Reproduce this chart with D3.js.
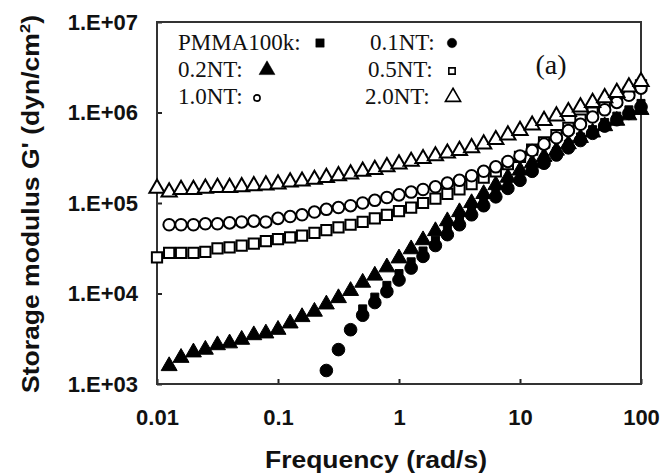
<!DOCTYPE html>
<html>
<head>
<meta charset="utf-8">
<script src="https://cdn.jsdelivr.net/npm/d3@7"></script>
<style>
  html, body { margin: 0; padding: 0; background: #fff; }
  #chart { width: 662px; height: 476px; }
</style>
</head>
<body>
<div id="chart"></div>
<script>
// frequency (rad/s), 10 points per decade
const freq = [0.01, 0.0126, 0.0158, 0.02, 0.0251, 0.0316, 0.0398, 0.0501, 0.0631, 0.0794,
  0.1, 0.126, 0.158, 0.2, 0.251, 0.316, 0.398, 0.501, 0.631, 0.794,
  1, 1.26, 1.58, 2, 2.51, 3.16, 3.98, 5.01, 6.31, 7.94,
  10, 12.6, 15.8, 20, 25.1, 31.6, 39.8, 50.1, 63.1, 79.4, 100];

// storage modulus G' (dyn/cm2), null = no point
const pmma100k = [null, null, null, null, null, null, null, null, null, null,
  null, null, null, null, null, null, null, 6.76e3, 9.12e3, 1.23e4,
  1.66e4, 2.24e4, 2.95e4, 3.89e4, 5.13e4, 6.61e4, 8.32e4, 1.05e5, 1.32e5, 1.62e5,
  2.00e5, 2.51e5, 3.09e5, 3.72e5, 4.47e5, 5.37e5, 6.46e5, 7.76e5, 9.12e5, 1.07e6, 1.26e6];
const nt01 = [null, null, null, null, null, null, null, null, null, null,
  null, null, null, null, 1.41e3, 2.40e3, 3.98e3, 5.75e3, 7.94e3, 1.05e4,
  1.41e4, 1.91e4, 2.57e4, 3.39e4, 4.47e4, 5.75e4, 7.41e4, 9.33e4, 1.17e5, 1.45e5,
  1.78e5, 2.24e5, 2.75e5, 3.39e5, 4.07e5, 4.90e5, 5.89e5, 7.08e5, 8.32e5, 9.77e5, 1.15e6];
const nt02 = [null, 1.58e3, 1.95e3, 2.24e3, 2.40e3, 2.69e3, 2.82e3, 3.09e3, 3.47e3, 3.63e3,
  3.98e3, 4.68e3, 5.50e3, 6.31e3, 7.59e3, 8.91e3, 1.07e4, 1.32e4, 1.58e4, 1.95e4,
  2.45e4, 3.09e4, 3.89e4, 4.90e4, 6.31e4, 7.94e4, 1.00e5, 1.26e5, 1.58e5, 1.91e5,
  2.29e5, 2.75e5, 3.24e5, 3.80e5, 4.47e5, 5.25e5, 6.03e5, 7.08e5, 8.13e5, 9.33e5, 1.07e6];
const nt05 = [2.51e4, 2.82e4, 2.82e4, 2.82e4, 2.88e4, 3.16e4, 3.24e4, 3.39e4, 3.55e4, 3.80e4,
  3.98e4, 4.17e4, 4.37e4, 4.68e4, 5.01e4, 5.37e4, 5.75e4, 6.17e4, 6.76e4, 7.41e4,
  8.13e4, 8.91e4, 1.00e5, 1.12e5, 1.26e5, 1.41e5, 1.62e5, 1.91e5, 2.24e5, 2.69e5,
  3.24e5, 3.89e5, 4.68e5, 5.62e5, 6.76e5, 8.32e5, 1.00e6, 1.17e6, 1.38e6, 1.66e6, 2.00e6];
const nt10 = [null, 5.75e4, 5.75e4, 5.75e4, 5.89e4, 5.89e4, 6.03e4, 6.17e4, 6.31e4, 6.17e4,
  6.76e4, 7.08e4, 7.41e4, 7.94e4, 8.51e4, 8.91e4, 9.33e4, 1.00e5, 1.07e5, 1.15e5,
  1.23e5, 1.32e5, 1.41e5, 1.51e5, 1.66e5, 1.78e5, 2.00e5, 2.24e5, 2.51e5, 2.88e5,
  3.31e5, 3.80e5, 4.47e5, 5.25e5, 6.31e5, 7.41e5, 8.91e5, 1.07e6, 1.29e6, 1.55e6, 1.86e6];
const nt20 = [1.45e5, 1.32e5, 1.41e5, 1.41e5, 1.45e5, 1.48e5, 1.48e5, 1.51e5, 1.55e5, 1.58e5,
  1.62e5, 1.70e5, 1.74e5, 1.82e5, 1.91e5, 2.00e5, 2.09e5, 2.24e5, 2.34e5, 2.51e5,
  2.69e5, 2.88e5, 3.09e5, 3.31e5, 3.55e5, 3.80e5, 4.07e5, 4.47e5, 5.01e5, 5.62e5,
  6.31e5, 7.24e5, 8.13e5, 9.12e5, 1.02e6, 1.15e6, 1.29e6, 1.45e6, 1.66e6, 1.91e6, 2.19e6];

const xTicks = [0.01, 0.1, 1, 10, 100];
const yTicks = [1e3, 1e4, 1e5, 1e6, 1e7];

const series = [
  { name: 'PMMA100k', values: pmma100k, shape: d3.symbolSquare, size: 64, open: false },
  { name: '0.1NT', values: nt01, shape: d3.symbolCircle, size: 125, open: false },
  { name: '0.2NT', values: nt02, shape: d3.symbolTriangle, size: 110, open: false },
  { name: '0.5NT', values: nt05, shape: d3.symbolSquare, size: 105, open: true },
  { name: '1.0NT', values: nt10, shape: d3.symbolCircle, size: 105, open: true },
  { name: '2.0NT', values: nt20, shape: d3.symbolTriangle, size: 100, open: true }
];

const width = 662, height = 476;
const margin = { top: 22, right: 21, bottom: 92, left: 157 };
const w = width - margin.left - margin.right;
const h = height - margin.top - margin.bottom;

const svg = d3.select('#chart').append('svg').attr('width', width).attr('height', height);
const g = svg.append('g').attr('transform', `translate(${margin.left},${margin.top})`);

const x = d3.scaleLog().domain([0.01, 100]).range([0, w]);
const y = d3.scaleLog().domain([1e3, 1e7]).range([h, 0]);

const sans = '"Liberation Sans", Arial, Helvetica, sans-serif';
const serif = '"Liberation Serif", "Times New Roman", Times, serif';

// axes, ticks pointing inward
const xAxis = g.append('g').attr('transform', `translate(0,${h})`)
  .call(d3.axisBottom(x).tickValues(xTicks).tickSize(-5).tickPadding(25)
    .tickFormat(d => d >= 1 ? String(d) : String(+d.toFixed(2))));
const yAxis = g.append('g')
  .call(d3.axisLeft(y).tickValues(yTicks).tickSize(-5).tickPadding(19)
    .tickFormat(d => '1.E+0' + Math.round(Math.log10(d))));
[xAxis, yAxis].forEach(a => {
  a.select('.domain').remove();
  a.selectAll('.tick line').attr('stroke', '#222').attr('stroke-width', 2);
  a.selectAll('.tick text').attr('font-family', sans).attr('font-weight', 'bold')
    .attr('font-size', 22).attr('fill', '#111');
});

g.append('rect').attr('x', 0).attr('y', 0).attr('width', w).attr('height', h)
  .attr('fill', 'none').attr('stroke', '#333').attr('stroke-width', 2);

// data points
series.forEach(s => {
  const pts = freq.map((f, i) => ({ f, v: s.values[i] })).filter(d => d.v != null);
  g.append('g').selectAll('path').data(pts).enter().append('path')
    .attr('transform', d => `translate(${x(d.f)},${y(d.v)})`)
    .attr('d', d3.symbol().type(s.shape).size(s.size))
    .attr('fill', s.open ? '#fff' : '#000')
    .attr('stroke', '#000')
    .attr('stroke-width', s.open ? 2 : 1);
});

// legend
const legend = [
  { s: series[0], tx: 178, ty: 50, mx: 320, my: 43, size: 70 },
  { s: series[1], tx: 370, ty: 50, mx: 452, my: 43, size: 70 },
  { s: series[2], tx: 178, ty: 77, mx: 267, my: 70, size: 110 },
  { s: series[3], tx: 368, ty: 77, mx: 452, my: 71, size: 40 },
  { s: series[4], tx: 178, ty: 104, mx: 257, my: 98, size: 30 },
  { s: series[5], tx: 365, ty: 104, mx: 453, my: 97, size: 100 }
];
legend.forEach(l => {
  svg.append('text').attr('x', l.tx).attr('y', l.ty)
    .attr('font-family', serif).attr('font-size', 23).attr('fill', '#111')
    .text(l.s.name + ':');
  svg.append('path').attr('transform', `translate(${l.mx},${l.my})`)
    .attr('d', d3.symbol().type(l.s.shape).size(l.size))
    .attr('fill', l.s.open ? '#fff' : '#000').attr('stroke', '#000')
    .attr('stroke-width', l.s.open ? 1.6 : 0.5);
});

svg.append('text').attr('x', 551).attr('y', 74).attr('text-anchor', 'middle')
  .attr('font-family', serif).attr('font-size', 28).attr('fill', '#111').text('(a)');

// axis titles
svg.append('text').attr('x', 376).attr('y', 468).attr('text-anchor', 'middle')
  .attr('font-family', sans).attr('font-weight', 'bold').attr('font-size', 24)
  .attr('textLength', 222).attr('lengthAdjust', 'spacingAndGlyphs')
  .attr('fill', '#111').text('Frequency (rad/s)');

const yt = svg.append('text').attr('transform', 'translate(39,204) rotate(-90)')
  .attr('text-anchor', 'middle')
  .attr('font-family', sans).attr('font-weight', 'bold').attr('font-size', 24)
  .attr('textLength', 378).attr('lengthAdjust', 'spacingAndGlyphs')
  .attr('fill', '#111');
yt.append('tspan').text("Storage modulus G' (dyn/cm");
yt.append('tspan').attr('font-size', 15).attr('dy', -9).text('2');
yt.append('tspan').attr('dy', 9).text(')');
</script>
</body>
</html>
